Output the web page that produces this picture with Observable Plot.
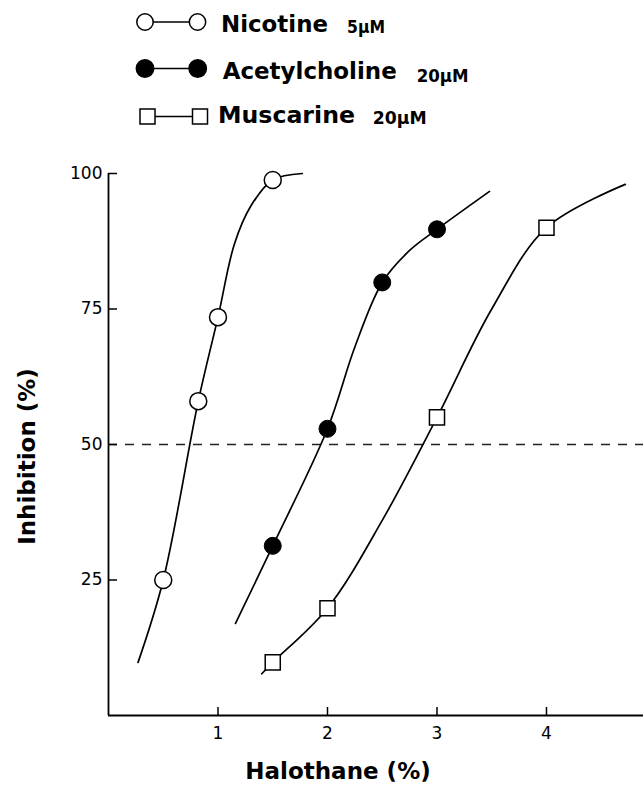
<!DOCTYPE html>
<html><head><meta charset="utf-8">
<script src="https://cdn.jsdelivr.net/npm/d3@7"></script>
<script src="https://cdn.jsdelivr.net/npm/@observablehq/plot@0.6"></script>
<style>
body{margin:0;background:#fff;}
#wrap{width:643px;height:786px;position:relative;overflow:hidden;background:#fff}
#legend{position:absolute;left:0;top:0}
#chart{position:absolute;left:0;top:140px}
</style></head><body>
<div id="wrap"><svg id="legend" width="643" height="140"></svg><div id="chart"></div></div>
<script>
// ---- data ----
const xTicks = [1, 2, 3, 4];
const yTicks = [25, 50, 75, 100];
const xDomain = [0, 4.886];
const yDomain = [0, 100];
const halfLine = [50];

const seriesNames = ["Nicotine", "Acetylcholine", "Muscarine"];
const seriesConc = ["5μM", "20μM", "20μM"];

// measured points
const nicX = [0.5, 0.82, 1.0, 1.5];
const nicY = [25, 58, 73.5, 98.8];
const achX = [1.5, 2.0, 2.5, 3.0];
const achY = [31.3, 52.9, 79.9, 89.7];
const musX = [1.5, 2.0, 3.0, 4.0];
const musY = [9.8, 19.8, 55, 90];

// hand-drawn fitted curves
const nicCurveX = [0.27, 0.5, 0.82, 1.0, 1.15, 1.3, 1.5, 1.77];
const nicCurveY = [9.8, 25, 58, 73.5, 87, 94, 98.8, 100];
const achCurveX = [1.16, 1.5, 2.0, 2.25, 2.5, 2.75, 3.0, 3.48];
const achCurveY = [17, 31.3, 52.9, 68, 79.9, 85.8, 89.7, 96.7];
const musCurveX = [1.40, 1.5, 2.0, 2.5, 3.0, 3.5, 4.0, 4.72];
const musCurveY = [7.7, 9.8, 19.8, 36, 55, 75, 90, 98];

const xLabel = "Halothane (%)";
const yLabel = "Inhibition (%)";

const zip = (xs, ys) => xs.map((x, i) => ({x, y: ys[i]}));

// ---- legend ----
const lg = d3.select("#legend");
const rows = [
  {sym: "circle-open", cy: 22, x1: 145, x2: 197.5, base: 31.5, nx: 221, nw: 107, cx: 347, cb: 33, cw: 38},
  {sym: "circle-fill", cy: 68.5, x1: 145, x2: 197.7, base: 78.5, nx: 222.7, nw: 174, cx: 416.7, cb: 81.5, cw: 52},
  {sym: "square", cy: 116.5, x1: 147.5, x2: 200, base: 123, nx: 218, nw: 137, cx: 372.7, cb: 124, cw: 54}
];
rows.forEach((r, i) => {
  lg.append("line").attr("x1", r.x1).attr("x2", r.x2).attr("y1", r.cy).attr("y2", r.cy)
    .attr("stroke", "black").attr("stroke-width", 1.6);
  [r.x1, r.x2].forEach(x => {
    if (r.sym === "square") {
      lg.append("rect").attr("x", x - 7.5).attr("y", r.cy - 7.5).attr("width", 15).attr("height", 15)
        .attr("fill", "white").attr("stroke", "black").attr("stroke-width", 1.5);
    } else {
      lg.append("circle").attr("cx", x).attr("cy", r.cy).attr("r", r.sym === "circle-fill" ? 8.7 : 8.2)
        .attr("fill", r.sym === "circle-fill" ? "black" : "white").attr("stroke", "black").attr("stroke-width", 1.5);
    }
  });
  lg.append("text").attr("x", r.nx).attr("y", r.base).text(seriesNames[i])
    .attr("font-family", "DejaVu Sans").attr("font-weight", "bold").attr("font-size", 23.5)
    .attr("textLength", r.nw).attr("lengthAdjust", "spacingAndGlyphs").attr("fill", "black");
  lg.append("text").attr("x", r.cx).attr("y", r.cb).text(seriesConc[i])
    .attr("font-family", "DejaVu Sans").attr("font-weight", "bold").attr("font-size", 17)
    .attr("textLength", r.cw).attr("lengthAdjust", "spacingAndGlyphs").attr("fill", "black");
});

// ---- chart ----
const chart = Plot.plot({
  width: 643, height: 646,
  marginLeft: 108, marginRight: 0, marginTop: 33, marginBottom: 71,
  x: {domain: xDomain},
  y: {domain: yDomain},
  style: {fontFamily: "DejaVu Sans", fontSize: "17px", color: "black", background: "white", overflow: "visible"},
  marks: [
    Plot.ruleY(halfLine, {stroke: "#222", strokeWidth: 1.3, strokeDasharray: "9,8"}),
    Plot.line(zip(nicCurveX, nicCurveY), {x: "x", y: "y", curve: "catmull-rom", stroke: "black", strokeWidth: 1.7}),
    Plot.line(zip(achCurveX, achCurveY), {x: "x", y: "y", curve: "catmull-rom", stroke: "black", strokeWidth: 1.7}),
    Plot.line(zip(musCurveX, musCurveY), {x: "x", y: "y", curve: "catmull-rom", stroke: "black", strokeWidth: 1.7}),
    Plot.dot(zip(nicX, nicY), {x: "x", y: "y", r: 8.5, fill: "white", stroke: "black", strokeWidth: 1.5}),
    Plot.dot(zip(achX, achY), {x: "x", y: "y", r: 8.5, fill: "black", stroke: "black", strokeWidth: 1}),
    Plot.dot(zip(musX, musY), {x: "x", y: "y", r: 8.5, symbol: "square", fill: "white", stroke: "black", strokeWidth: 1.5}),
    Plot.ruleY([yDomain[0]], {stroke: "black", strokeWidth: 2}),
    Plot.ruleX([xDomain[0]], {y1: yDomain[0], y2: yDomain[1], stroke: "black", strokeWidth: 1.8}),
    Plot.axisY({ticks: yTicks, tickSize: 0, tickPadding: 6, label: null, fontSize: 17}),
    Plot.axisY({ticks: yTicks, tickSize: 9, dx: 9, tickFormat: () => "", label: null, strokeWidth: 1.5}),
    Plot.axisX({ticks: xTicks, tickSize: 0, tickPadding: 11, label: null, fontSize: 17, tickFormat: d3.format("d")}),
    Plot.axisX({ticks: xTicks, tickSize: 8, dy: -8, tickFormat: () => "", label: null, strokeWidth: 1.5}),
    Plot.text([xLabel], {frameAnchor: "bottom", dx: -38, dy: 63, fontSize: 23, fontWeight: "bold", fill: "black"}),
    Plot.text([yLabel], {frameAnchor: "left", textAnchor: "middle", rotate: -90, dx: -81, dy: 12, fontSize: 23, fontWeight: "bold", fill: "black"})
  ]
});
document.getElementById("chart").appendChild(chart);
</script>
</body></html>
